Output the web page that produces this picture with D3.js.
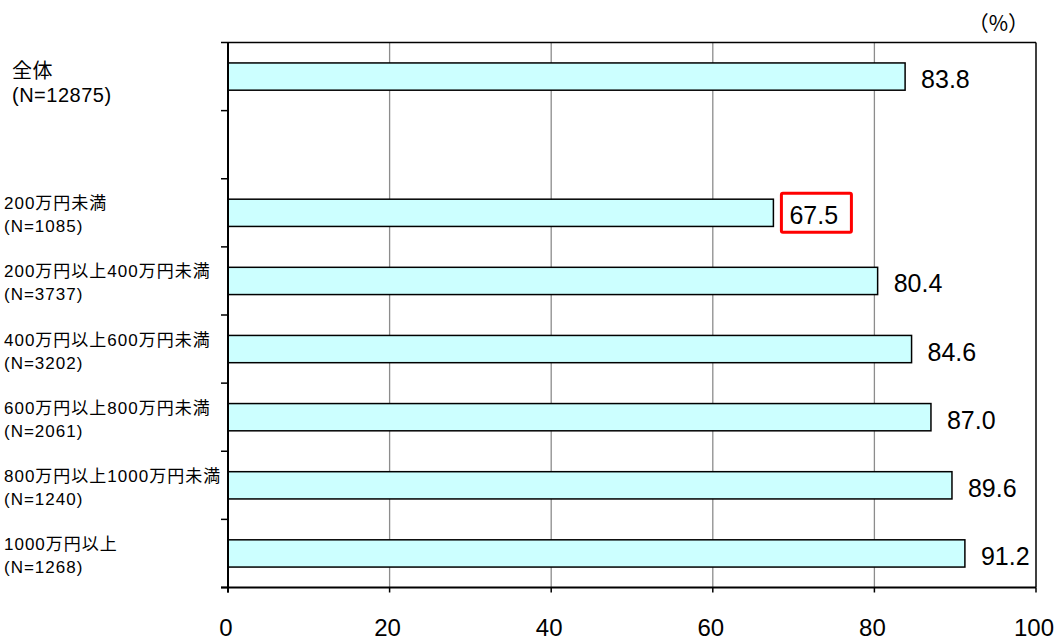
<!DOCTYPE html>
<html><head><meta charset="utf-8">
<script src="https://cdn.jsdelivr.net/npm/d3@7"></script>
<style>body{margin:0;background:#fff}svg{display:block}</style>
</head><body>
<svg id="c" width="1057" height="640"></svg>
<script>
const categories = ["全体", "", "200万円未満", "200万円以上400万円未満", "400万円以上600万円未満", "600万円以上800万円未満", "800万円以上1000万円未満", "1000万円以上"];
const sampleSizes = ["(N=12875)", "", "(N=1085)", "(N=3737)", "(N=3202)", "(N=2061)", "(N=1240)", "(N=1268)"];
const values = [83.8, null, 67.5, 80.4, 84.6, 87.0, 89.6, 91.2];
const xTicks = [0, 20, 40, 60, 80, 100];
const highlighted = ["200万円未満"];
const unitLabel = "（%）";

const svg = d3.select("#c");
const font = "'Liberation Sans', Arial, 'Noto Sans CJK JP', sans-serif";
const m = {left: 228, right: 1036, top: 42.5, bottom: 587.5};

const x = d3.scaleLinear().domain([0, 100]).range([m.left, m.right]);
const y = d3.scaleBand().domain(d3.range(categories.length)).range([m.top, m.bottom]).paddingInner(0.6).paddingOuter(0.3);
const step = y.step();

// gridlines
svg.append("g").selectAll("line").data(xTicks.filter(t => t > 0 && t < 100)).join("line")
  .attr("x1", d => x(d)).attr("x2", d => x(d)).attr("y1", m.top).attr("y2", m.bottom)
  .attr("stroke", "#8c8c8c").attr("stroke-width", 1.3);

// frame top and right
svg.append("line").attr("x1", m.left).attr("x2", m.right).attr("y1", m.top).attr("y2", m.top).attr("stroke", "#000").attr("stroke-width", 1.5);
svg.append("line").attr("x1", m.right).attr("x2", m.right).attr("y1", m.top).attr("y2", m.bottom).attr("stroke", "#000").attr("stroke-width", 1.5);

// bars
const data = categories.map((c, i) => ({c, n: sampleSizes[i], v: values[i], i}));
svg.append("g").selectAll("rect").data(data.filter(d => d.v != null)).join("rect")
  .attr("x", x(0)).attr("y", d => y(d.i)).attr("width", d => x(d.v) - x(0)).attr("height", y.bandwidth())
  .attr("fill", "#ccffff").attr("stroke", "#000").attr("stroke-width", 1.5);

// value labels
const vl = svg.append("g").selectAll("g").data(data.filter(d => d.v != null)).join("g");
vl.filter(d => highlighted.includes(d.c)).append("rect")
  .attr("x", d => x(d.v) + 8).attr("y", d => y(d.i) + y.bandwidth() / 2 - 19.5)
  .attr("width", 70).attr("height", 39).attr("rx", 1.5)
  .attr("fill", "none").attr("stroke", "#ff0000").attr("stroke-width", 3);
vl.append("text")
  .attr("x", d => x(d.v) + 16).attr("y", d => y(d.i) + y.bandwidth() / 2 + 2.5)
  .attr("dominant-baseline", "central")
  .attr("font-family", font).attr("font-size", 25).attr("fill", "#000")
  .text(d => d.v.toFixed(1));

// left axis
svg.append("line").attr("x1", m.left).attr("x2", m.left).attr("y1", m.top).attr("y2", m.bottom + 5).attr("stroke", "#000").attr("stroke-width", 2);
const bounds = d3.range(categories.length + 1).map(i => m.top + i * step);
svg.append("g").selectAll("line").data(bounds).join("line")
  .attr("x1", m.left - 7).attr("x2", m.left).attr("y1", d => d).attr("y2", d => d)
  .attr("stroke", "#000").attr("stroke-width", 1.5);

// bottom axis
svg.append("line").attr("x1", m.left - 7).attr("x2", m.right).attr("y1", m.bottom).attr("y2", m.bottom).attr("stroke", "#000").attr("stroke-width", 2);
svg.append("g").selectAll("line").data(xTicks).join("line")
  .attr("x1", d => x(d)).attr("x2", d => x(d)).attr("y1", m.bottom).attr("y2", m.bottom + 5)
  .attr("stroke", "#000").attr("stroke-width", 1.5);
svg.append("g").selectAll("text").data(xTicks).join("text")
  .attr("x", d => x(d) - 2).attr("y", 627).attr("text-anchor", "middle").attr("dominant-baseline", "central")
  .attr("font-family", font).attr("font-size", 24).attr("fill", "#000").text(d => d);

// category labels
const cl = svg.append("g").selectAll("g").data(data.filter(d => d.c)).join("g");
const lx = d => d.i === 0 ? 12 : 4;
const fs = d => d.i === 0 ? 20 : 17;
const ls = d => d.i === 0 ? 0.5 : 1;
cl.append("text")
  .attr("x", lx)
  .attr("y", d => y(d.i) + y.bandwidth() / 2 + (d.i === 0 ? -5.5 : -9))
  .attr("dominant-baseline", "central")
  .attr("font-family", font).attr("font-size", fs).attr("letter-spacing", ls).attr("fill", "#000")
  .text(d => d.c);
cl.append("text")
  .attr("x", lx)
  .attr("y", d => y(d.i) + y.bandwidth() / 2 + (d.i === 0 ? 18.5 : 14))
  .attr("dominant-baseline", "central")
  .attr("font-family", font).attr("font-size", fs).attr("letter-spacing", ls).attr("fill", "#000")
  .text(d => d.n);

// unit label
svg.append("text").attr("x", 1029).attr("y", 22).attr("text-anchor", "end").attr("dominant-baseline", "central")
  .attr("font-family", "'Noto Sans CJK JP', sans-serif").attr("font-size", 21).attr("fill", "#000").text(unitLabel);
</script>
</body></html>
